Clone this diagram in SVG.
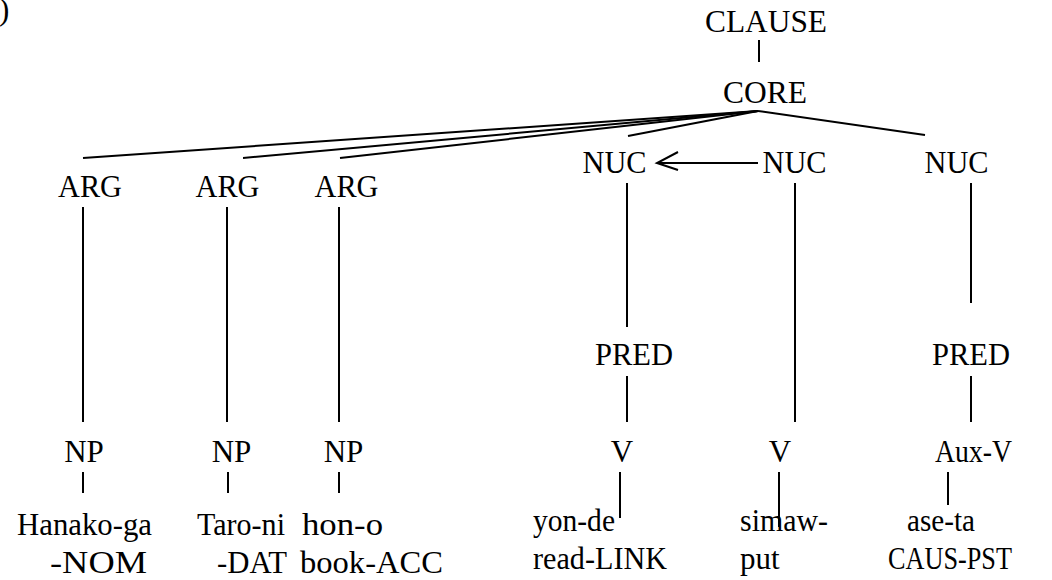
<svg xmlns="http://www.w3.org/2000/svg" width="1052" height="580" viewBox="0 0 1052 580">
<style>
text{font-family:'Liberation Serif','Times New Roman',serif;font-size:31px;fill:#000}
.m{text-anchor:middle}
.c line,.c polyline{stroke:#000;stroke-width:2;fill:none}
</style>
<rect width="1052" height="580" fill="#fff"/>
<text x="-1" y="20">)</text>
<g class="c" id="connectors">
<line x1="759" y1="40" x2="759" y2="62"/>
<line x1="758" y1="111" x2="83" y2="158"/>
<line x1="758" y1="111" x2="243" y2="158"/>
<line x1="758" y1="111" x2="340" y2="158"/>
<line x1="758" y1="111" x2="628" y2="136"/>
<line x1="758" y1="111" x2="925" y2="135"/>
<line x1="83" y1="207" x2="83" y2="422"/>
<line x1="227" y1="207" x2="227" y2="422"/>
<line x1="339" y1="207" x2="339" y2="422"/>
<line x1="83" y1="472" x2="83" y2="493"/>
<line x1="228" y1="472" x2="228" y2="493"/>
<line x1="339" y1="472" x2="339" y2="493"/>
<line x1="627" y1="183" x2="627" y2="327"/>
<line x1="627" y1="376" x2="627" y2="422"/>
<line x1="795" y1="183" x2="795" y2="422"/>
<line x1="971" y1="183" x2="971" y2="303"/>
<line x1="971" y1="376" x2="971" y2="422"/>
<line x1="620" y1="472" x2="620" y2="518"/>
<line x1="779" y1="472" x2="779" y2="527"/>
<line x1="948" y1="472" x2="948" y2="505"/>
<line x1="758" y1="163" x2="658" y2="163"/>
<polyline points="678,152 657,163 678,170"/>
</g>
<g id="clause"><text class="m" x="766" y="32" textLength="122" lengthAdjust="spacingAndGlyphs">CLAUSE</text></g>
<g id="core"><text class="m" x="765" y="103" textLength="84" lengthAdjust="spacingAndGlyphs">CORE</text></g>
<g id="arg1"><text class="m" x="90" y="197" textLength="64" lengthAdjust="spacingAndGlyphs">ARG</text></g>
<g id="arg2"><text class="m" x="227.5" y="197" textLength="64" lengthAdjust="spacingAndGlyphs">ARG</text></g>
<g id="arg3"><text class="m" x="346.5" y="197" textLength="64" lengthAdjust="spacingAndGlyphs">ARG</text></g>
<g id="nuc1"><text class="m" x="614.5" y="173" textLength="64" lengthAdjust="spacingAndGlyphs">NUC</text></g>
<g id="nuc2"><text class="m" x="794.5" y="173" textLength="64" lengthAdjust="spacingAndGlyphs">NUC</text></g>
<g id="nuc3"><text class="m" x="956.5" y="173" textLength="64" lengthAdjust="spacingAndGlyphs">NUC</text></g>
<g id="pred1"><text class="m" x="634" y="365" textLength="78" lengthAdjust="spacingAndGlyphs">PRED</text></g>
<g id="pred2"><text class="m" x="971" y="365" textLength="78" lengthAdjust="spacingAndGlyphs">PRED</text></g>
<g id="np1"><text class="m" x="84" y="462">NP</text></g>
<g id="np2"><text class="m" x="231.5" y="462">NP</text></g>
<g id="np3"><text class="m" x="343.5" y="462">NP</text></g>
<g id="v1"><text class="m" x="622" y="462">V</text></g>
<g id="v2"><text class="m" x="780" y="462">V</text></g>
<g id="auxv"><text class="m" x="973.5" y="462" textLength="77" lengthAdjust="spacingAndGlyphs">Aux-V</text></g>
<g id="w1"><text x="17" y="535" textLength="135" lengthAdjust="spacingAndGlyphs">Hanako-ga</text><text x="50" y="573" textLength="97" lengthAdjust="spacingAndGlyphs">-NOM</text></g>
<g id="w2"><text x="197" y="535" textLength="88" lengthAdjust="spacingAndGlyphs">Taro-ni</text><text x="217" y="573" textLength="70" lengthAdjust="spacingAndGlyphs">-DAT</text></g>
<g id="w3"><text x="302" y="535" textLength="81" lengthAdjust="spacingAndGlyphs">hon-o</text><text x="300" y="573" textLength="143" lengthAdjust="spacingAndGlyphs">book-ACC</text></g>
<g id="w4"><text x="533" y="531" textLength="82" lengthAdjust="spacingAndGlyphs">yon-de</text><text x="533" y="569" textLength="134" lengthAdjust="spacingAndGlyphs">read-LINK</text></g>
<g id="w5"><text x="740" y="531" textLength="88" lengthAdjust="spacingAndGlyphs">simaw-</text><text x="740" y="569">put</text></g>
<g id="w6"><text x="907" y="531" textLength="68" lengthAdjust="spacingAndGlyphs">ase-ta</text><text x="888" y="569" textLength="124" lengthAdjust="spacingAndGlyphs">CAUS-PST</text></g>
</svg>
